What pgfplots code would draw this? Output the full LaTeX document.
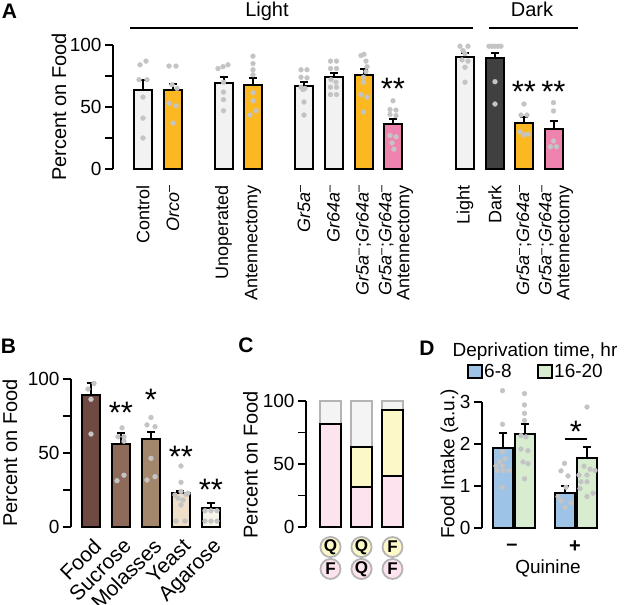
\documentclass[border=0pt]{standalone}
\usepackage{fontspec}
\setmainfont{Liberation Sans}
\usepackage{pgfplots}
\pgfplotsset{compat=1.18}
\newcommand\fs[1]{\fontsize{#1}{#1}\selectfont}
\newcommand\sm{\textsuperscript{\textendash}}
\newcommand\grgr{\textit{Gr5a}\sm;\textit{Gr64a}\sm}
\definecolor{lg}{HTML}{F2F2F2}
\definecolor{yel}{HTML}{FBB820}
\definecolor{pnk}{HTML}{EF83B0}
\definecolor{dg}{HTML}{404040}
\definecolor{dotc}{HTML}{C4C4C4}
\definecolor{bfood}{HTML}{6F4A42}
\definecolor{bsuc}{HTML}{8D6A59}
\definecolor{bmol}{HTML}{A3876D}
\definecolor{byea}{HTML}{EFDFC8}
\definecolor{baga}{HTML}{F7F5EA}
\definecolor{cpink}{HTML}{FDE3EE}
\definecolor{cyel}{HTML}{FDF8C8}
\definecolor{cgray}{HTML}{F4F4F4}
\definecolor{cgb}{HTML}{B4B4B4}
\definecolor{dblue}{HTML}{9DC3E6}
\definecolor{dgreen}{HTML}{D8ECD0}
\pgfplotsset{
 panel/.style={scale only axis, axis x line=none, axis y line=left,
   axis line style={-, line width=1.6pt, black}, xtick=\empty, tick align=outside,
   major tick length=8pt, minor tick length=8pt,
   major tick style={line width=1.6pt, black}, minor tick style={line width=1.6pt, black},
   yticklabel style={font=\fs{19}, black}, /pgf/number format/assume math mode=true,
   clip=false, anchor=south west},
 bar/.style={ybar, bar shift=0pt, bar width=18pt, draw=black, line width=2pt, fill=#1},
 err/.style={error bars/.cd, y dir=plus, y explicit,
   error bar style={line width=2pt, black},
   error mark options={rotate=90, mark size=4pt, line width=2pt, black}},
 dots/.style={only marks, mark=*, mark size=2.4pt, color=dotc},
}
\tikzset{
 cat/.style={rotate=90, anchor=east, align=right, font=\fs{18}, inner sep=0pt},
 star/.style={anchor=base, font=\fs{31}, inner sep=0pt},
 bl/.style={rotate=45, anchor=north east, font=\fs{21}, inner sep=0pt},
 circ/.style={circle, draw=cgb, line width=1.8pt, fill=#1, minimum size=20pt, inner sep=0pt, font=\bfseries\fs{17}},
}
\begin{document}
\begin{tikzpicture}
\useasboundingbox (0,0) rectangle (625pt,605pt);
% ---------------- Panel A
\begin{axis}[panel, at={(113pt,436pt)}, width=467pt, height=124pt,
  xmin=113, xmax=580, ymin=0, ymax=100, ytick={0,50,100}, minor ytick={25,75}]
\addplot[bar=lg, err] coordinates {(143,64) +- (0,7.5) (223.5,69.6) +- (0,4.4) (304,67.2) +- (0,3.2) (333.5,74.4) +- (0,3.3) (465,90.6) +- (0,2.7)};
\addplot[bar=yel, err] coordinates {(173,63.5) +- (0,5) (253,67.7) +- (0,5.3) (363.5,76) +- (0,4.4) (524,37.4) +- (0,4.8)};
\addplot[bar=pnk, err] coordinates {(393,36) +- (0,4) (553.5,32.3) +- (0,6.4)};
\addplot[bar=dg, err] coordinates {(495,89.8) +- (0,4)};
\addplot[dots] coordinates {
(140,84)(146,87)(139,72)(147,72)(143,58)(143,41)(143,25)
(169,83)(176,83)(172,68)(177,65)(169,53)(176,51)(173,37)
(218,81)(223,82.5)(228,84)(223.5,70)(223.5,62)(223.5,56)(223.5,47)
(253,91)(253,85)(253,80)(253,76)(253,61.5)(253,55)(256,47)(250,43.5)
(301,80)(307,80)(301,74)(307,73.5)(301,66)(305,65)(303,64)(304,54)(304,43.5)
(330.5,87)(336.5,87)(330.5,81)(336.5,81)(331,72)(336,70)(330.5,66)(336.5,66)(330.5,60)(336.5,60)
(361,91.5)(364,92.5)(366,87)(367,82.5)(366,78.5)(363.5,74)(363.5,70)(361,60)(367,58)(363.5,46)
(393,55)(390,48)(396,47.5)(390,44)(396,43)(390,27)(396,26)(392,21)(394,16)
(460,99)(468,99)(463,95.5)(465,93)(462,88)(468,87)(465,82)(465,70)
(489,99)(492,99)(495,99)(498,99)(501,99)(495,70.4)(495,52.4)
(524,52.4)(521,43.5)(527,43.5)(520,30)(524,27.5)(528,28)
(553.5,53.5)(553.5,46.8)(553.5,22.6)(550.5,18)(556.5,18)};
\node[star] at (axis cs:393,56) {**};
\node[star] at (axis cs:524,54) {**};
\node[star] at (axis cs:553.5,54) {**};
\node[cat] at (axis cs:143,-13) {Control};
\node[cat] at (axis cs:173,-13) {\textit{Orco}\sm};
\node[cat] at (axis cs:223.5,-13) {Unoperated};
\node[cat] at (axis cs:253,-13) {Antennectomy};
\node[cat] at (axis cs:304,-13) {\textit{Gr5a}\sm};
\node[cat] at (axis cs:333.5,-13) {\textit{Gr64a}\sm};
\node[cat] at (axis cs:363.5,-13) {\grgr};
\node[cat] at (axis cs:396,-13) {\grgr\\Antennectomy};
\node[cat] at (axis cs:465,-13) {Light};
\node[cat] at (axis cs:495,-13) {Dark};
\node[cat] at (axis cs:524,-13) {\grgr};
\node[cat] at (axis cs:556,-13) {\grgr\\Antennectomy};
\end{axis}
\node[font=\bfseries\fs{21}, inner sep=0pt] at (9.5pt,594pt) {A};
\node[font=\fs{20}, anchor=base] at (267pt,588pt) {Light};
\node[font=\fs{20}, anchor=base] at (532pt,588pt) {Dark};
\draw[line width=1.6pt] (130pt,577pt) -- (473pt,577pt);
\draw[line width=1.6pt] (489pt,577pt) -- (578pt,577pt);
\node[rotate=90, font=\fs{20}] at (59pt,498pt) {Percent on Food};
% ---------------- Panel B
\begin{axis}[panel, at={(71pt,78pt)}, width=154pt, height=148pt,
  xmin=71, xmax=225, ymin=0, ymax=100, ytick={0,50,100}, minor ytick={25,75}]
\addplot[bar=bfood, err] coordinates {(91,89.2) +- (0,8.3)};
\addplot[bar=bsuc, err] coordinates {(121,56) +- (0,7.5)};
\addplot[bar=bmol, err] coordinates {(151,59.5) +- (0,5)};
\addplot[bar=byea, err] coordinates {(180.5,23) +- (0,1.3)};
\addplot[bar=baga, err] coordinates {(211,13) +- (0,3)};
\addplot[dots] coordinates {
(88,93.2)(94,97)(91,86.3)(91,62.8)
(122,67)(118,61)(124,61)(124,58)(124,35)(117,31.3)
(151,74)(147,69)(155,67.8)(151,46.4)(155,34)(147,31.7)
(181,41.2)(181,30.2)(175,21.6)(188,22.8)(178,19.4)(183,18.2)(186,22)(181,14.9)(176,4)(185,4)(181,24)
(205,11)(211,11)(217,11)(205,4)(211,4)(217,4)};
\node[star] at (axis cs:121,69.8) {**};
\node[star] at (axis cs:151,78.6) {*};
\node[star] at (axis cs:181,40) {**};
\node[star] at (axis cs:211,18.2) {**};
\node[bl] at (axis cs:92,-6.8) {Food};
\node[bl] at (axis cs:122,-6.8) {Sucrose};
\node[bl] at (axis cs:152,-6.8) {Molasses};
\node[bl] at (axis cs:181.5,-6.8) {Yeast};
\node[bl] at (axis cs:212,-6.8) {Agarose};
\end{axis}
\node[font=\bfseries\fs{21}, inner sep=0pt] at (8.5pt,259pt) {B};
\node[rotate=90, font=\fs{20}] at (10pt,152pt) {Percent on Food};
% ---------------- Panel C
\begin{axis}[panel, at={(306pt,78pt)}, width=104pt, height=126pt,
  xmin=306, xmax=410, ymin=0, ymax=100, ytick={0,50,100}, minor ytick={25,75}]
\addplot[bar=cgray, draw=cgb, bar width=21pt] coordinates {(330.5,100)(361.5,100)(392.5,100)};
\addplot[bar=cyel, bar width=21pt] coordinates {(361.5,63.7)(392.5,93)};
\addplot[bar=cpink, bar width=21pt] coordinates {(330.5,82)(361.5,32)(392.5,40.5)};
\node[circ=cyel] at (axis cs:330.5,-15.9) {Q};
\node[circ=cpink] at (axis cs:330.5,-33.3) {F};
\node[circ=cyel] at (axis cs:361.5,-15.9) {Q};
\node[circ=cpink] at (axis cs:361.5,-33.3) {Q};
\node[circ=cyel] at (axis cs:392.5,-15.9) {F};
\node[circ=cpink] at (axis cs:392.5,-33.3) {F};
\end{axis}
\node[font=\bfseries\fs{21}, inner sep=0pt] at (246pt,260pt) {C};
\node[rotate=90, font=\fs{20}] at (250.5pt,140pt) {Percent on Food};
% ---------------- Panel D
\begin{axis}[panel, at={(482pt,77pt)}, width=123pt, height=126pt,
  xmin=482, xmax=605, ymin=0, ymax=3, ytick={0,1,2,3}]
\addplot[bar=dblue, bar width=20pt, err] coordinates {(502.5,1.9) +- (0,0.37) (564.5,0.83) +- (0,0.17)};
\addplot[bar=dgreen, bar width=20pt, err] coordinates {(524.5,2.24) +- (0,0.23) (587,1.66) +- (0,0.26)};
\addplot[dots] coordinates {
(502.5,3.27)(502.5,2.47)(502.5,1.82)(505,1.65)(500,1.58)(496,1.48)(502.5,1.48)(497,1.37)(503,1.37)(509,1.37)(502.5,0.97)
(524.5,3.2)(524.5,2.93)(524.5,2.73)(524.5,2.56)(521,2.2)(526,2.17)(521,1.88)(528,1.84)(523,1.57)(528,1.53)(524.5,1.17)
(564.5,1.54)(561,1.36)(568,1.24)(566,0.97)(558,0.75)(561,0.65)(571,0.6)(565,0.49)
(587,2.88)(584,1.47)(590,1.4)(595,1.37)(579,1.26)(587,1.26)(581,1.1)(587,1.1)(580,0.94)(593,0.83)(587,0.75)};
\node[star] at (axis cs:576,2.03) {*};
\draw[line width=2pt] (axis cs:565,2.12) -- (axis cs:587,2.12);
\node[font=\bfseries\fs{20}] at (axis cs:512,-0.45) {\textendash};
\node[font=\bfseries\fs{20}] at (axis cs:575,-0.45) {+};
\end{axis}
\node[font=\bfseries\fs{21}, inner sep=0pt] at (427pt,257pt) {D};
\node[rotate=90, font=\fs{19}] at (449.5pt,141pt) {Food Intake (a.u.)};
\node[font=\fs{19}, anchor=base] at (535pt,248pt) {Deprivation time, hr};
\draw[fill=dblue, line width=1.4pt] (468pt,227pt) rectangle (482pt,240pt);
\node[font=\fs{19}, anchor=base west, inner sep=1pt] at (483pt,227pt) {6-8};
\draw[fill=dgreen, line width=1.4pt] (538pt,227pt) rectangle (552pt,240pt);
\node[font=\fs{19}, anchor=base west, inner sep=1pt] at (553pt,227pt) {16-20};
\node[font=\fs{19}, anchor=base] at (548pt,31pt) {Quinine};
\end{tikzpicture}
\end{document}
